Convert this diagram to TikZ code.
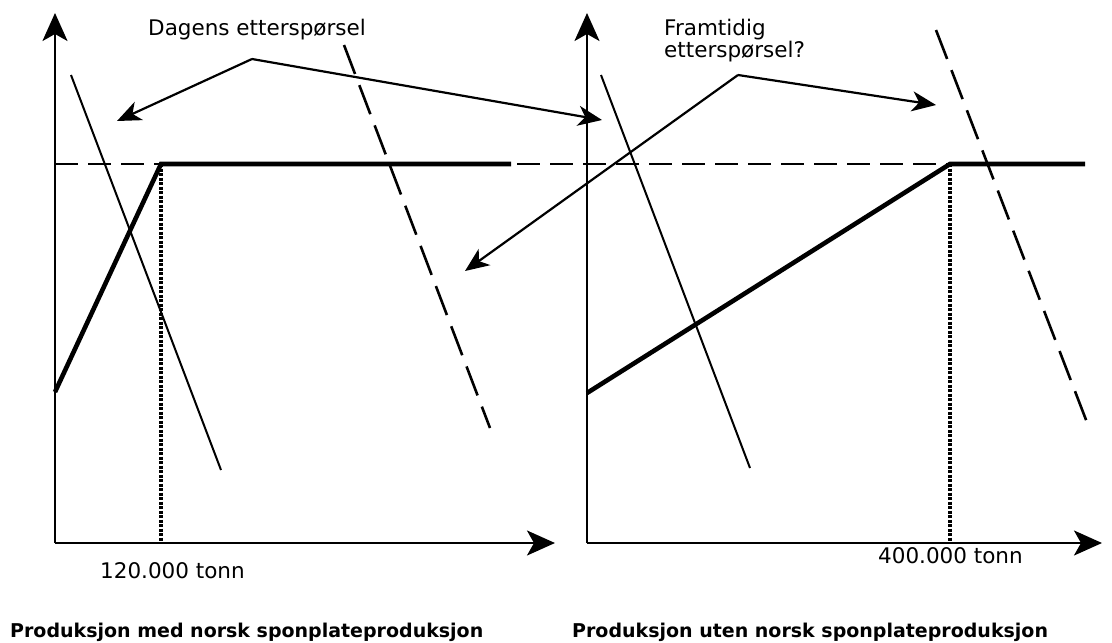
\documentclass[tikz,border=0pt]{standalone}
\usepackage{fontspec}
\setmainfont{DejaVu Sans}
\usetikzlibrary{arrows.meta}

\tikzset{
  axis/.style={line width=2.3pt, -{Stealth[length=28pt,width=25pt,inset=7pt]}},
  supply/.style={line width=4.6pt},
  demand/.style={line width=2pt},
  futuredemand/.style={line width=2.6pt, dash pattern=on 31pt off 12pt},
  level/.style={line width=2.6pt, dash pattern=on 23pt off 10pt},
  marker/.style={line width=3.5pt, dash pattern=on 3pt off 1.5pt},
  pointer/.style={line width=2.2pt, -{Stealth[length=24pt,width=20pt,inset=7pt]}},
  label/.style={anchor=base west, inner sep=0pt, font=\fontsize{21.5}{22}\selectfont},
  title/.style={anchor=base west, inner sep=0pt, font=\fontsize{19}{20}\selectfont\bfseries}
}

\begin{document}
\begin{tikzpicture}[x=1pt,y=-1pt]
\useasboundingbox (0,0) rectangle (1112,643);

% venstre diagram
\coordinate (o1) at (55,543);
\coordinate (ytop1) at (55,13);
\coordinate (xend1) at (555,543);
\coordinate (s1a) at (55,392);
\coordinate (s1b) at (161,164);
\coordinate (s1c) at (511,164);
\coordinate (q1) at (161,543);
\coordinate (d1a) at (71,75);
\coordinate (d1b) at (221,470);
\coordinate (f1a) at (344,45);
\coordinate (f1b) at (490,428);

% hoyre diagram
\coordinate (o2) at (587,543);
\coordinate (ytop2) at (587,13);
\coordinate (xend2) at (1102,543);
\coordinate (s2a) at (587,393);
\coordinate (s2b) at (950,164);
\coordinate (s2c) at (1085,164);
\coordinate (q2) at (950,543);
\coordinate (d2a) at (601,75);
\coordinate (d2b) at (750,468);
\coordinate (f2a) at (936,30);
\coordinate (f2b) at (1088,425);

% prisniva
\coordinate (lev1) at (55,164);
\draw [level] (lev1) -- (s2c);

\draw [axis] (o1) -- (ytop1);
\draw [axis] (o1) -- (xend1);
\draw [axis] (o2) -- (ytop2);
\draw [axis] (o2) -- (xend2);

\draw [marker] (s1b) -- (q1);
\draw [marker] (s2b) -- (q2);

\draw [supply] (s1a) -- (s1b) -- (s1c);
\draw [supply] (s2a) -- (s2b) -- (s2c);

\draw [demand] (d1a) -- (d1b);
\draw [demand] (d2a) -- (d2b);
\draw [futuredemand] (f1a) -- (f1b);
\draw [futuredemand] (f2a) -- (f2b);

% tekst
\node [label] (today) at (148,35) {Dagens etterspørsel};
\node [label, align=left] (future) at (664,57) {Framtidig\\etterspørsel?};
\node [label] (q1text) at (100,578) {120.000 tonn};
\node [label] (q2text) at (878,563) {400.000 tonn};
\node [title] (title1) at (10,637) {Produksjon med norsk sponplateproduksjon};
\node [title] (title2) at (572,637) {Produksjon uten norsk sponplateproduksjon};

% piler
\coordinate (todayhub) at (252,59);
\coordinate (todaytip1) at (117,121);
\coordinate (todaytip2) at (602,120);
\draw [pointer] (todayhub) -- (todaytip1);
\draw [pointer] (todayhub) -- (todaytip2);

\coordinate (futurehub) at (738,75);
\coordinate (futuretip1) at (936,105);
\coordinate (futuretip2) at (465,271);
\draw [pointer] (futurehub) -- (futuretip1);
\draw [pointer] (futurehub) -- (futuretip2);

\end{tikzpicture}
\end{document}
